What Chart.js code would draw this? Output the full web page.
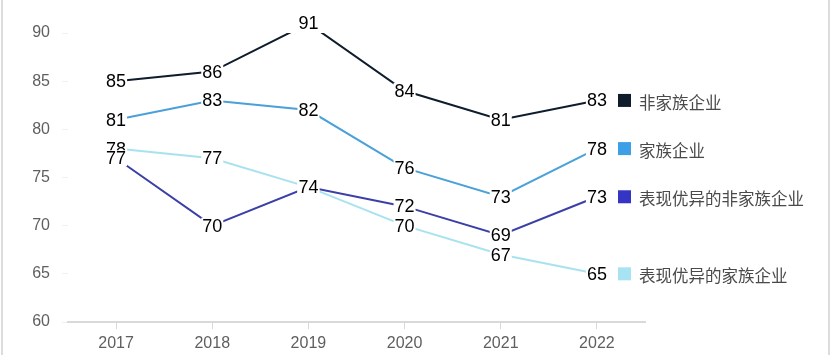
<!DOCTYPE html>
<html><head><meta charset="utf-8">
<script src="https://cdn.jsdelivr.net/npm/chart.js@4/dist/chart.umd.min.js"></script>
<style>html,body{margin:0;padding:0;background:#fff;}#wrap{width:834px;height:355px;position:relative;}</style>
</head><body><div id="wrap"><canvas id="c" width="834" height="355"></canvas></div>
<script>
const years = ['2017','2018','2019','2020','2021','2022'];
const seriesNames = ['非家族企业','家族企业','表现优异的非家族企业','表现优异的家族企业'];
const nonFamily = [85, 86, 91, 84, 81, 83];
const family = [81, 83, 82, 76, 73, 78];
const topNonFamily = [77, 70, 74, 72, 69, 73];
const topFamily = [78, 77, 74, 70, 67, 65];
const yTicks = [60, 65, 70, 75, 80, 85, 90];

const lineColors = ['#0e1c2c', '#4aa0d8', '#3b3fa6', '#a9e2ef'];
const boxColors = ['#0e1c2c', '#3d9fe6', '#3535c4', '#a8e3f3'];

const labelPlugin = {
  id: 'labels',
  afterDatasetsDraw(chart) {
    const ctx = chart.ctx;
    ctx.save();
    ctx.font = '18px "Liberation Sans", Arial, sans-serif';
    ctx.textAlign = 'center';
    ctx.textBaseline = 'middle';
    for (let d = chart.data.datasets.length - 1; d >= 0; d--) {
      const meta = chart.getDatasetMeta(d);
      meta.data.forEach((pt, i) => {
        const txt = String(chart.data.datasets[d].data[i]);
        const w = ctx.measureText(txt).width;
        ctx.fillStyle = '#fff';
        ctx.fillRect(pt.x - w / 2 - 1, pt.y - 8, w + 2, 16);
        ctx.fillStyle = '#000';
        ctx.fillText(txt, pt.x, pt.y + 1);
      });
    }
    // legend at end of lines
    ctx.textAlign = 'left';
    ctx.font = '16.5px "Noto Sans CJK SC", sans-serif';
    chart.data.datasets.forEach((ds, d) => {
      const meta = chart.getDatasetMeta(d);
      const last = meta.data[meta.data.length - 1];
      const y = last.y;
      ctx.fillStyle = boxColors[d];
      ctx.fillRect(618, y - 6.5, 13, 13);
      ctx.fillStyle = '#4a4a4a';
      ctx.fillText(ds.label, 639, y + 2);
    });
    // page borders
    ctx.fillStyle = '#dcdcdc';
    ctx.fillRect(1, 0, 2, 355);
    ctx.fillRect(828, 0, 2, 355);
    ctx.restore();
  }
};

const mk = (label, data, i) => ({
  label, data, borderColor: lineColors[i], backgroundColor: lineColors[i],
  borderWidth: 2, pointRadius: 0, tension: 0, fill: false
});

new Chart(document.getElementById('c'), {
  type: 'line',
  data: {
    labels: years,
    datasets: [
      mk(seriesNames[0], nonFamily, 0),
      mk(seriesNames[1], family, 1),
      mk(seriesNames[2], topNonFamily, 2),
      mk(seriesNames[3], topFamily, 3)
    ]
  },
  options: {
    responsive: false,
    animation: false,
    devicePixelRatio: 1,
    layout: { padding: { top: 33, right: 189, left: 0, bottom: 0 } },
    plugins: { legend: { display: false }, tooltip: { enabled: false } },
    scales: {
      x: {
        offset: true,
        grid: { display: true, drawOnChartArea: false, drawTicks: true, tickLength: 7, color: '#d9d9d9', lineWidth: 1 },
        border: { display: true, color: '#d9d9d9', width: 2 },
        ticks: { color: '#5f5f5f', font: { size: 16, family: '"Liberation Sans", Arial, sans-serif' }, padding: 5 },
        afterFit(s) { s.height = 33; }
      },
      y: {
        min: 60, max: 90,
        afterBuildTicks(s) { s.ticks = yTicks.map(v => ({ value: v })); },
        grid: { display: true, drawOnChartArea: false, drawTicks: true, tickLength: 6, color: '#f0f0f0' },
        border: { display: false },
        ticks: { color: '#5f5f5f', font: { size: 16, family: '"Liberation Sans", Arial, sans-serif' }, padding: 12 },
        afterFit(s) { s.width = 68; }
      }
    }
  },
  plugins: [labelPlugin]
});
</script>
</body></html>
